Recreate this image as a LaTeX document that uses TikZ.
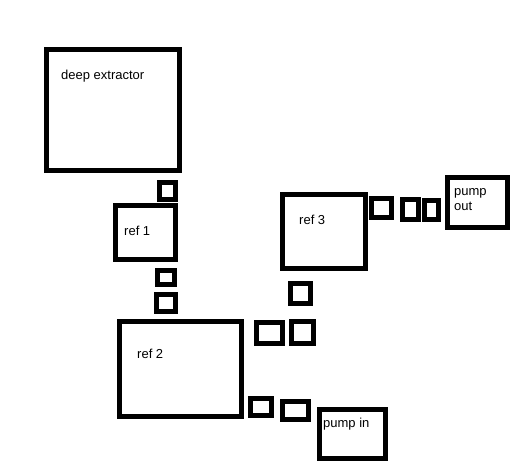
\documentclass[tikz,border=0pt]{standalone}
\usepackage{fontspec}
\setmainfont{Liberation Sans}
\usepackage{tikz}

\begin{document}
\begin{tikzpicture}[x=1pt, y=-1pt,
        unit/.style={draw, line width=5pt, inner sep=0pt},
        lbl/.style={anchor=west, inner sep=0pt, font=\fontsize{13}{15}\selectfont, align=left}]
        \useasboundingbox (0,0) rectangle (522,462);
        % Define the units
        \node[unit, minimum width=133pt, minimum height=121pt] (deep) at (113,110) {};
        \node[unit, minimum width=60pt, minimum height=54pt] (ref_1) at (145.5,232.5) {};
        \node[unit, minimum width=122pt, minimum height=95pt] (ref_2) at (180.5,369) {};
        \node[unit, minimum width=83pt, minimum height=74pt] (ref_3) at (324,231.5) {};
        \node[unit, minimum width=66pt, minimum height=49pt] (pump_in) at (352.5,434) {};
        \node[unit, minimum width=60pt, minimum height=50pt] (pump_out) at (477.5,202.5) {};
        % Define the small boxes
        \node[unit, minimum width=16pt, minimum height=17pt] (v_1) at (167.5,191) {};
        \node[unit, minimum width=17pt, minimum height=14pt] (v_2) at (166,277.5) {};
        \node[unit, minimum width=19pt, minimum height=17pt] (v_3) at (166,303) {};
        \node[unit, minimum width=26pt, minimum height=21pt] (v_4) at (269.5,333) {};
        \node[unit, minimum width=22pt, minimum height=22pt] (v_5) at (302.5,332.5) {};
        \node[unit, minimum width=21pt, minimum height=17pt] (v_6) at (261,407) {};
        \node[unit, minimum width=26pt, minimum height=18pt] (v_7) at (295.5,410.5) {};
        \node[unit, minimum width=20pt, minimum height=20pt] (v_8) at (300.5,293.5) {};
        \node[unit, minimum width=20pt, minimum height=19pt] (v_9) at (381.5,208) {};
        \node[unit, minimum width=16pt, minimum height=20pt] (v_10) at (410.5,209.5) {};
        \node[unit, minimum width=14pt, minimum height=19pt] (v_11) at (431.5,210) {};
        % Define the labels
        \node[lbl] (deep_lbl) at (61,76) {deep extractor};
        \node[lbl] (ref_1_lbl) at (124,231) {ref 1};
        \node[lbl] (ref_2_lbl) at (137,354) {ref 2};
        \node[lbl] (ref_3_lbl) at (299,220) {ref 3};
        \node[lbl] (pump_in_lbl) at (323,424) {pump in};
        \node[lbl] (pump_out_lbl) at (454,199.5) {pump\\out};
    \end{tikzpicture}
\end{document}
